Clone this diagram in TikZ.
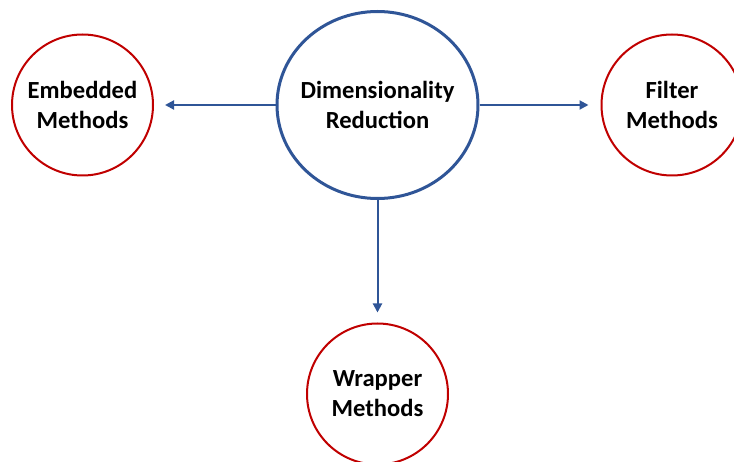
\documentclass[tikz,border=0pt]{standalone}
\usepackage{fontspec}
\setmainfont{Carlito}
\usetikzlibrary{shapes.geometric,arrows.meta}
\definecolor{hubblue}{RGB}{47,85,151}
\definecolor{leafred}{RGB}{192,0,0}
\tikzset{
  x=1pt, y=-1pt,
  label text/.style={font=\fontsize{24.6}{30}\selectfont\bfseries, align=center, text=black},
  hub/.style={ellipse, draw=hubblue, line width=3pt, inner sep=0pt,
              minimum width=201pt, minimum height=187pt},
  leaf/.style={circle, draw=leafred, line width=2pt, inner sep=0pt,
               minimum size=141pt, label text},
  arr/.style={draw=hubblue, line width=2pt,
              -{Triangle[length=9pt,width=9pt]}}
}
\begin{document}
\begin{tikzpicture}
  \useasboundingbox (0,0) rectangle (734,462);
  \node[hub, label={[label text]center:Dimensionality\\Reduction}]
        (dr)  at (377.5,105) {};
  \node[leaf] (emb) at (82.5,105)  {Embedded\\Methods};
  \node[leaf] (fil) at (672,105)   {Filter\\Methods};
  \node[leaf] (wrp) at (377.5,394) {Wrapper\\Methods};
  \draw[arr, shorten >=11pt] (dr) -- (emb);
  \draw[arr, shorten >=12pt] (dr) -- (fil);
  \draw[arr, shorten >=10pt] (dr) -- (wrp);
\end{tikzpicture}
\end{document}
